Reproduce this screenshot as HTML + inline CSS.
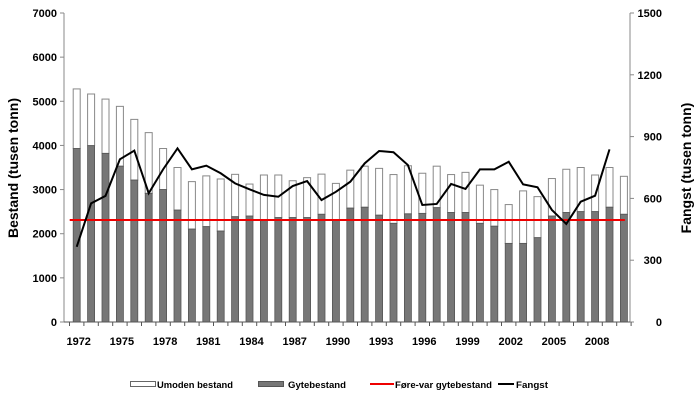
<!DOCTYPE html>
<html><head><meta charset="utf-8"><style>
body{margin:0;background:#fff;width:700px;height:401px;overflow:hidden;font-family:"Liberation Sans",sans-serif}
text{font-family:"Liberation Sans",sans-serif;font-weight:bold}
</style></head><body>
<svg id="chart" width="700" height="401" xmlns="http://www.w3.org/2000/svg">
<g id="g"></g>
<text transform="translate(18,168) rotate(-90)" text-anchor="middle" font-size="14">Bestand (tusen tonn)</text>
<text transform="translate(691,168) rotate(-90)" text-anchor="middle" font-size="14">Fangst (tusen tonn)</text>
<g font-size="9">
<rect x="130.5" y="381.5" width="25" height="5" fill="#fff" stroke="#666"/>
<text x="157" y="388" textLength="76" lengthAdjust="spacingAndGlyphs">Umoden bestand</text>
<rect x="258.5" y="381.5" width="25" height="5" fill="#777" stroke="#555"/>
<text x="288" y="388" textLength="58" lengthAdjust="spacingAndGlyphs">Gytebestand</text>
<line x1="370" y1="384" x2="394" y2="384" stroke="#e00" stroke-width="2"/>
<text x="395" y="388" textLength="97" lengthAdjust="spacingAndGlyphs">Føre-var gytebestand</text>
<line x1="498" y1="384" x2="514" y2="384" stroke="#000" stroke-width="2"/>
<text x="516" y="388" textLength="32" lengthAdjust="spacingAndGlyphs">Fangst</text>
</g>
</svg>
<script>
const years=[1972,1973,1974,1975,1976,1977,1978,1979,1980,1981,1982,1983,1984,1985,1986,1987,1988,1989,1990,1991,1992,1993,1994,1995,1996,1997,1998,1999,2000,2001,2002,2003,2004,2005,2006,2007,2008,2009,2010];
const totalStock=[5280,5165,5050,4885,4590,4290,3930,3500,3180,3310,3240,3345,3125,3330,3330,3200,3270,3350,3140,3440,3530,3480,3340,3540,3370,3530,3340,3390,3100,3000,2660,2970,2840,3250,3460,3500,3330,3500,3300];
const spawningStock=[3930,3995,3820,3530,3215,2915,3000,2535,2105,2160,2060,2385,2400,2300,2365,2365,2365,2440,2300,2580,2600,2420,2235,2450,2460,2590,2480,2480,2235,2170,1780,1780,1910,2400,2480,2500,2500,2600,2440];
const catchYears=[1972,1973,1974,1975,1976,1977,1978,1979,1980,1981,1982,1983,1984,1985,1986,1987,1988,1989,1990,1991,1992,1993,1994,1995,1996,1997,1998,1999,2000,2001,2002,2003,2004,2005,2006,2007,2008,2009];
const catchValues=[365,576,612,790,832,625,741,843,741,759,722,673,644,617,608,660,684,592,632,681,770,830,824,762,568,573,670,646,741,741,778,668,654,544,476,584,613,838];
const precautionLevel=2310;
const leftTicks=[0,1000,2000,3000,4000,5000,6000,7000];
const rightTicks=[0,300,600,900,1200,1500];
const xLabelYears=[1972,1975,1978,1981,1984,1987,1990,1993,1996,1999,2002,2005,2008];

const NS="http://www.w3.org/2000/svg";
const X0=69.5,W=14.4,Y0=322,Y1=13,AX=64,AR=630;
const xc=y=>X0+(years.indexOf(y)+0.5)*W;
const yl=v=>Y0-(v/7000)*(Y0-Y1);
const yr=v=>Y0-(v/1500)*(Y0-Y1);
const g=document.getElementById('g');
function el(t,a){const e=document.createElementNS(NS,t);for(const k in a)e.setAttribute(k,a[k]);g.appendChild(e);return e;}

years.forEach((yr_,i)=>{
 const x=xc(yr_)-3.5;
 let r=el('rect',{x:x,y:yl(totalStock[i]),width:7,height:yl(spawningStock[i])-yl(totalStock[i]),fill:'#fff',stroke:'#888','stroke-width':1});
 
 
 let d=el('rect',{x:x,y:yl(spawningStock[i]),width:7,height:Y0-yl(spawningStock[i]),fill:'#777',stroke:'#555','stroke-width':0.8});
 
 
});
let ax=el('line',{x1:AX,y1:Y1,x2:AX,y2:Y0,stroke:'#888'});


let ar=el('line',{x1:AR,y1:Y1,x2:AR,y2:Y0,stroke:'#888'});


let xb=el('line',{x1:AX,y1:Y0,x2:AR,y2:Y0,stroke:'#555'});


leftTicks.forEach(v=>{
 el('line',{x1:AX-4,y1:yl(v),x2:AX,y2:yl(v),stroke:'#888'});
 const t=el('text',{x:AX-7,y:yl(v)+4,'text-anchor':'end','font-size':'11'});t.textContent=v;
 
 
});
rightTicks.forEach(v=>{
 el('line',{x1:AR,y1:yr(v),x2:AR+4,y2:yr(v),stroke:'#888'});
 const t=el('text',{x:AR+32,y:yr(v)+4,'text-anchor':'end','font-size':'11'});t.textContent=v;
 
 
});
for(let i=0;i<=years.length;i++){el('line',{x1:X0+i*W,y1:Y0,x2:X0+i*W,y2:Y0+4,stroke:'#555'});}
xLabelYears.forEach(y=>{
 const t=el('text',{x:xc(y)+2,y:Y0+23,'text-anchor':'middle','font-size':'11'});t.textContent=y;
 
 
});
let rl=el('line',{x1:xc(years[0])-7,y1:yl(precautionLevel),x2:xc(years[years.length-1])+1,y2:yl(precautionLevel),stroke:'#e00','stroke-width':2});


let pl=el('polyline',{points:catchYears.map((y,i)=>xc(y)+','+yr(catchValues[i])).join(' '),fill:'none',stroke:'#000','stroke-width':2});


</script>
</body></html>
